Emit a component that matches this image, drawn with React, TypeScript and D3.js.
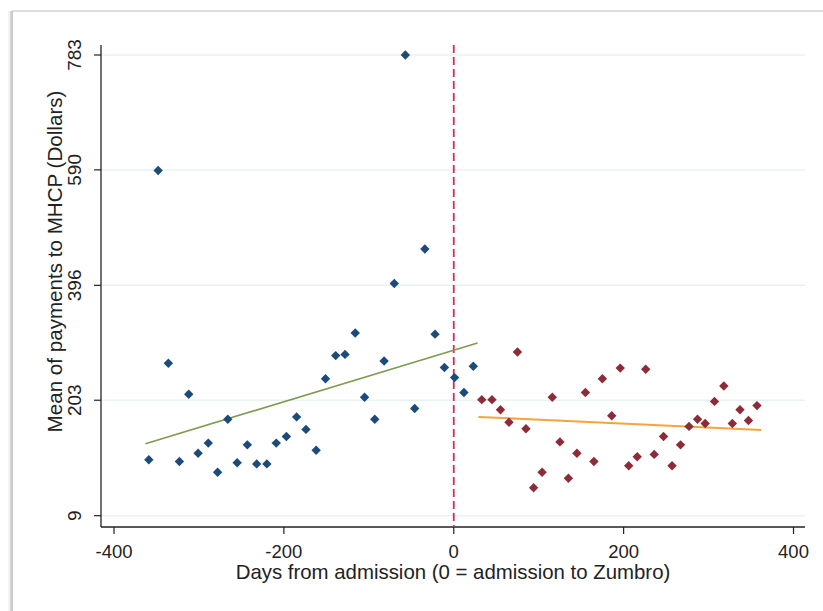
import React from 'react'
import * as d3 from 'd3'

// days from admission, mean payment (pre-admission bins)
const blueDays = [-359, -348, -336, -323, -312, -301, -289, -278, -266, -255, -243, -232, -220, -209, -197, -185, -174, -162, -151, -139, -128, -116, -105, -93, -82, -70, -57, -46, -34, -22, -11, 1, 12, 23]
const bluePay = [103, 589, 265, 100, 213, 114, 131, 82, 171, 98, 128, 96, 96, 131, 142, 175, 154, 119, 239, 278, 280, 316, 208, 171, 269, 399, 783, 189, 457, 314, 258, 241, 216, 260]

// post-admission bins
const redDays = [33, 45, 55, 65, 75, 85, 94, 104, 116, 125, 135, 145, 155, 165, 175, 186, 196, 206, 216, 226, 236, 247, 257, 267, 277, 287, 296, 307, 318, 328, 337, 347, 357]
const redPay = [204, 204, 187, 166, 284, 155, 56, 82, 208, 133, 72, 114, 216, 100, 239, 177, 257, 93, 108, 255, 112, 142, 93, 128, 159, 171, 164, 201, 227, 164, 187, 169, 194]

// fitted lines (start / end)
const greenFitX = [-363, 28]
const greenFitY = [130, 299]
const orangeFitX = [29, 362]
const orangeFitY = [175, 153]

const xTicks = [-400, -200, 0, 200, 400]
const yTicks = [9, 203, 396, 590, 783]

const W = 823
const H = 611
const font = '"Liberation Sans", Arial, sans-serif'

const App = () => {
  const x = d3.scaleLinear().domain([-400, 400]).range([114, 793.5])
  const y = d3.scaleLinear().domain([9, 783]).range([515.7, 55])

  const left = 101, right = 805, top = 45, bottom = 527

  const diamond = (cx: number, cy: number, r = 4.7) =>
    `M${cx},${cy - r}L${cx + r},${cy}L${cx},${cy + r}L${cx - r},${cy}Z`

  const line = d3.line<[number, number]>().x(d => x(d[0])).y(d => y(d[1]))
  const green = line(greenFitX.map((d, i) => [d, greenFitY[i]] as [number, number]))
  const orange = line(orangeFitX.map((d, i) => [d, orangeFitY[i]] as [number, number]))

  return (
    <svg width={W} height={H} style={{ position: 'absolute', left: 0, top: 0, background: '#fff' }} fontFamily={font}>
      {/* screenshot frame */}
      <line x1={9} y1={11} x2={9} y2={H} stroke="#e6e6e6" strokeWidth={1} />
      <line x1={10.5} y1={11} x2={10.5} y2={H} stroke="#d6d6d6" strokeWidth={1} />
      <line x1={12} y1={11} x2={W} y2={11} stroke="#bdbdbd" strokeWidth={1} />
      <line x1={12} y1={11} x2={12} y2={H} stroke="#a8a8a8" strokeWidth={1.2} />

      {/* grid */}
      {yTicks.map(t => (
        <line key={'g' + t} x1={left} x2={right} y1={y(t)} y2={y(t)} stroke="#e8f2f2" strokeWidth={1.5} />
      ))}

      {/* axes */}
      <line x1={left} x2={left} y1={top} y2={bottom} stroke="#222" strokeWidth={1.3} />
      <line x1={left} x2={right} y1={bottom} y2={bottom} stroke="#222" strokeWidth={1.3} />
      {yTicks.map(t => (
        <g key={'y' + t}>
          <line x1={left - 7} x2={left} y1={y(t)} y2={y(t)} stroke="#222" strokeWidth={1.2} />
          <text transform={`translate(81,${y(t)}) rotate(-90)`} textAnchor="middle" fontSize={19} fill="#222">{t}</text>
        </g>
      ))}
      {xTicks.map(t => (
        <g key={'x' + t}>
          <line x1={x(t)} x2={x(t)} y1={bottom} y2={bottom + 7} stroke="#222" strokeWidth={1.2} />
          <text x={x(t)} y={558} textAnchor="middle" fontSize={18.5} fill="#222">{t}</text>
        </g>
      ))}

      <text x={453} y={578.5} textAnchor="middle" fontSize={20.4} fill="#222">Days from admission (0 = admission to Zumbro)</text>
      <text transform="translate(62,261.5) rotate(-90)" textAnchor="middle" fontSize={20.6} fill="#222">Mean of payments to MHCP (Dollars)</text>

      {/* admission line */}
      <line x1={x(0)} x2={x(0)} y1={top} y2={bottom} stroke="#d62b5a" strokeWidth={1.8} strokeDasharray="8,4" />

      {/* fits */}
      <path d={green ?? ''} fill="none" stroke="#7d9c4e" strokeWidth={1.6} />
      <path d={orange ?? ''} fill="none" stroke="#f5a43a" strokeWidth={2} />

      {/* points */}
      {blueDays.map((d, i) => (
        <path key={'b' + i} d={diamond(x(d), y(bluePay[i]))} fill="#1d4b79" />
      ))}
      {redDays.map((d, i) => (
        <path key={'r' + i} d={diamond(x(d), y(redPay[i]))} fill="#8b2c37" />
      ))}
    </svg>
  )
}

export default App
